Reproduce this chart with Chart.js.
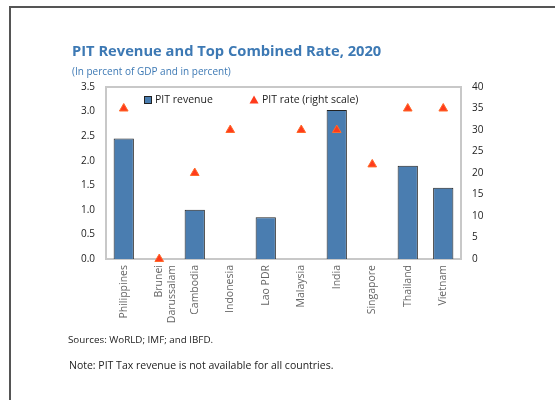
<!DOCTYPE html>
<html>
<head>
<meta charset="utf-8">
<script src="https://cdn.jsdelivr.net/npm/chart.js@4"></script>
<style>
  body { margin: 0; background: #fff; }
  #wrap { position: relative; width: 555px; height: 400px; overflow: hidden; font-family: "Open Sans", sans-serif; }
  #frameTop { position: absolute; left: 9px; top: 6px; width: 546px; height: 2px; background: #555; }
  #frameLeft { position: absolute; left: 9px; top: 6px; width: 2px; height: 394px; background: #555; }
  #title { position: absolute; left: 72px; top: 40px; font-size: 14.7px; font-weight: bold; color: #3d79b4; white-space: nowrap; }
  #subtitle { position: absolute; left: 72px; top: 64px; font-size: 10px; color: #3d79b4; white-space: nowrap; }
  #sources { position: absolute; left: 68px; top: 333px; font-size: 9.8px; color: #222; white-space: nowrap; }
  #note { position: absolute; left: 69px; top: 358px; font-size: 10.5px; color: #222; white-space: nowrap; }
  canvas { position: absolute; left: 0; top: 0; }
</style>
</head>
<body>
<div id="wrap">
  <canvas id="myChart" width="555" height="400"></canvas>
  <div id="frameTop"></div>
  <div id="frameLeft"></div>
  <div id="title">PIT Revenue and Top Combined Rate, 2020</div>
  <div id="subtitle">(In percent of GDP and in percent)</div>
  <div id="sources">Sources: WoRLD; IMF; and IBFD.</div>
  <div id="note">Note: PIT Tax revenue is not available for all countries.</div>
</div>
<script>
const countries = ['Philippines', ['Brunei', 'Darussalam'], 'Cambodia', 'Indonesia', 'Lao PDR',
    'Malaysia', 'India', 'Singapore', 'Thailand', 'Vietnam'];

const pitRevenue = [2.45, null, 1.0, null, 0.85, null, 3.03, null, 1.9, 1.45];

const pitRate = [35, 0, 20, 30, null, 30, 30, 22, 35, 35];

const leftTicks = [0, 0.5, 1, 1.5, 2, 2.5, 3, 3.5];
const rightTicks = [0, 5, 10, 15, 20, 25, 30, 35, 40];

const tickFont = { family: 'Open Sans', size: 10 };

// legend drawn inside the plot area
const insideLegend = {
    id: 'insideLegend',
    afterDraw(chart) {
        const ctx = chart.ctx;
        ctx.save();
        ctx.font = '10.5px "Open Sans"';
        ctx.textBaseline = 'middle';
        const y = 100;
        ctx.fillStyle = '#4a7db0';
        ctx.strokeStyle = '#222';
        ctx.lineWidth = 1;
        ctx.fillRect(144, y - 4, 8, 8);
        ctx.strokeRect(144.5, y - 3.5, 7, 7);
        ctx.fillStyle = '#222';
        ctx.fillText('PIT revenue', 155, y);
        ctx.fillStyle = '#ff3b1c';
        ctx.beginPath();
        ctx.moveTo(254, y - 4.5);
        ctx.lineTo(258.5, y + 3.5);
        ctx.lineTo(249.5, y + 3.5);
        ctx.closePath();
        ctx.fill();
        ctx.fillStyle = '#222';
        ctx.fillText('PIT rate (right scale)', 262, y);
        ctx.restore();
    }
};

const ctx = document.getElementById('myChart').getContext('2d');
new Chart(ctx, {
    data: {
        labels: countries,
        datasets: [{
            type: 'scatter',
            label: 'PIT rate (right scale)',
            data: pitRate,
            yAxisID: 'y2',
            pointStyle: 'triangle',
            pointRadius: 5,
            pointBackgroundColor: '#ff3b1c',
            pointBorderColor: '#ff6a2a',
            pointBorderWidth: 1,
            showLine: false,
            clip: false,
            order: 0
        }, {
            type: 'bar',
            label: 'PIT revenue',
            data: pitRevenue,
            yAxisID: 'y',
            backgroundColor: '#4a7db0',
            borderColor: '#222',
            borderWidth: 1,
            categoryPercentage: 1,
            barPercentage: 0.57,
            order: 1
        }]
    },
    options: {
        responsive: false,
        animation: false,
        layout: { padding: { left: 0, right: 0, top: 87, bottom: 61 } },
        plugins: {
            legend: { display: false },
            tooltip: { enabled: false }
        },
        scales: {
            x: {
                type: 'category',
                offset: true,
                grid: { display: false, drawTicks: false },
                border: { color: '#c8c8c8', width: 2 },
                ticks: {
                    color: '#666',
                    font: { family: 'Open Sans', size: 10.5 },
                    maxRotation: 90,
                    minRotation: 90,
                    padding: 6,
                    autoSkip: false
                },
                afterFit(axis) { axis.height = 80; }
            },
            y: {
                position: 'left',
                min: 0,
                max: 3.5,
                grid: { display: false, drawTicks: false },
                border: { color: '#c8c8c8', width: 2 },
                afterBuildTicks(axis) { axis.ticks = leftTicks.map(v => ({ value: v })); },
                ticks: {
                    color: '#222',
                    font: tickFont,
                    padding: 11,
                    callback: v => v.toFixed(1)
                },
                afterFit(axis) { axis.width = 106; }
            },
            y2: {
                position: 'right',
                min: 0,
                max: 40,
                grid: { display: false, drawTicks: false },
                border: { color: '#c8c8c8', width: 2 },
                afterBuildTicks(axis) { axis.ticks = rightTicks.map(v => ({ value: v })); },
                ticks: {
                    color: '#222',
                    font: tickFont,
                    padding: 11
                },
                afterFit(axis) { axis.width = 94; }
            }
        }
    },
    plugins: [insideLegend, {
        id: 'topBorder',
        afterDraw(chart) {
            const a = chart.chartArea;
            const c = chart.ctx;
            c.save();
            c.strokeStyle = '#c8c8c8';
            c.lineWidth = 2;
            c.beginPath();
            c.moveTo(a.left, a.top);
            c.lineTo(a.right, a.top);
            c.stroke();
            c.restore();
        }
    }]
});
</script>
</body>
</html>
